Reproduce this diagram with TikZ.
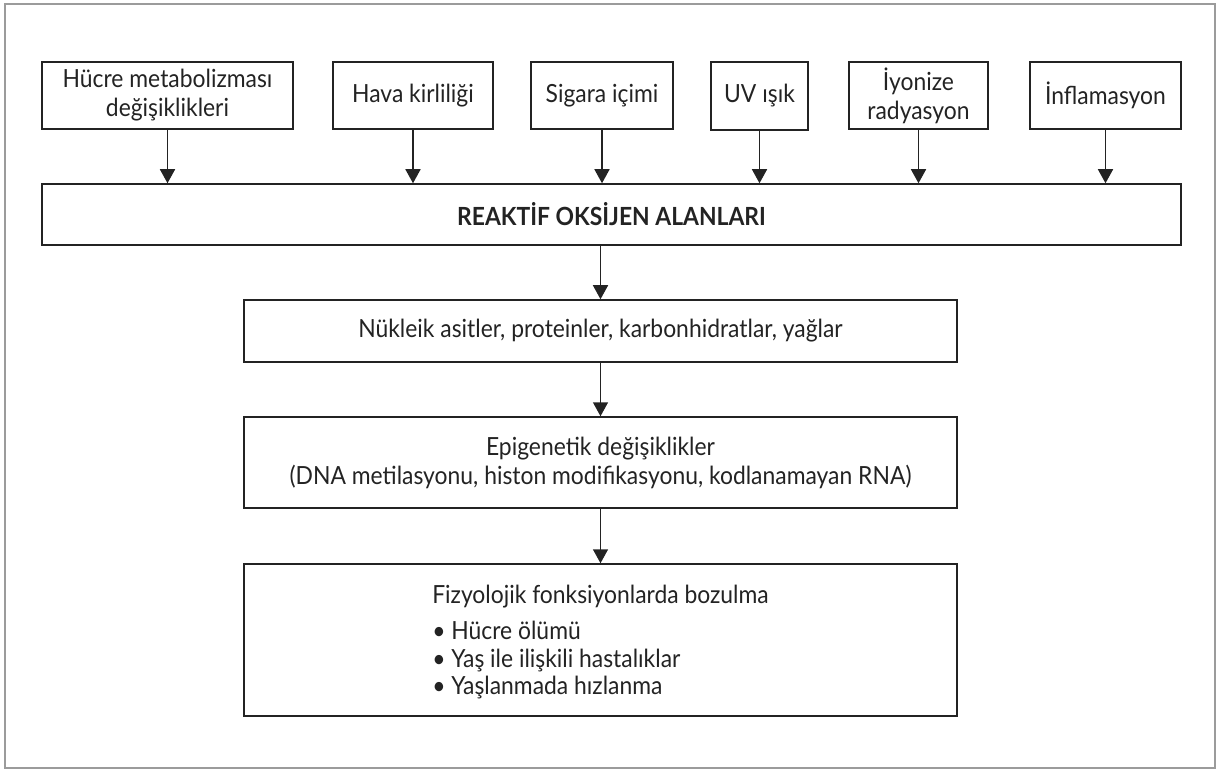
\documentclass[tikz,border=0pt]{standalone}
\usepackage{fontspec}
\setmainfont{Lato}[FakeStretch=0.915]
\usetikzlibrary{arrows.meta}
\definecolor{framegray}{RGB}{155,155,155}
\definecolor{ink}{RGB}{35,35,35}
\begin{document}
\begin{tikzpicture}[x=0.5pt,y=-0.5pt,
  box/.style={draw=ink, line width=0.75pt, rectangle, inner sep=0pt, align=center,
    text=ink, font=\fontsize{12.5}{14.5}\selectfont},
  arr/.style={draw=ink, line width=0.75pt, -{Triangle[width=7.5pt,length=7pt]}}]
\useasboundingbox (0,0) rectangle (1221,770);
\draw[framegray, line width=1.2pt] (5,4) rectangle (1215,768);
% top boxes
\node[box, minimum width=125.5pt, minimum height=33.5pt] (b1) at (167.5,95.5) {Hücre metabolizması\\değişiklikleri};
\node[box, minimum width=80pt, minimum height=33.5pt] (b2) at (413,95.5) {Hava kirliliği};
\node[box, minimum width=71pt, minimum height=33.5pt] (b3) at (602,95.5) {Sigara içimi};
\node[box, minimum width=48.5pt, minimum height=34pt] (b4) at (759.5,96) {UV ışık};
\node[box, minimum width=69.5pt, minimum height=33.5pt] (b5) at (918.5,95.5) {İyonize\\radyasyon};
\node[box, minimum width=75.5pt, minimum height=33.5pt] (b6) at (1105.5,95.5) {İnflamasyon};
% main boxes
\node[box, minimum width=569.5pt, minimum height=30.5pt, font=\fontsize{12.5}{14.5}\selectfont\bfseries] (ros) at (611.5,214.5) {REAKTİF OKSİJEN ALANLARI};
\node[box, minimum width=356.5pt, minimum height=31pt] (nuk) at (600.5,331) {Nükleik asitler, proteinler, karbonhidratlar, yağlar};
\node[box, minimum width=356.5pt, minimum height=45.5pt] (epi) at (600.5,462.5) {Epigenetik değişiklikler\\(DNA metilasyonu, histon modifikasyonu, kodlanamayan RNA)};
\node[box, minimum width=356.5pt, minimum height=76pt] (fiz) at (600.5,640) {};
\node[text=ink, align=left, inner sep=0pt, font=\fontsize{12.5}{13.75}\selectfont] (fiztext) at ([yshift=-1pt]fiz.center) {Fizyolojik fonksiyonlarda bozulma\\[4.5pt]• Hücre ölümü\\• Yaş ile ilişkili hastalıklar\\• Yaşlanmada hızlanma};
% arrows
\foreach \b in {b1,b2,b3,b4,b5,b6}
  \draw[arr] (\b.south) -- (\b.south |- ros.north);
\draw[arr] (nuk.north |- ros.south) -- (nuk.north);
\draw[arr] (nuk.south) -- (epi.north);
\draw[arr] (epi.south) -- (fiz.north);
\end{tikzpicture}
\end{document}
